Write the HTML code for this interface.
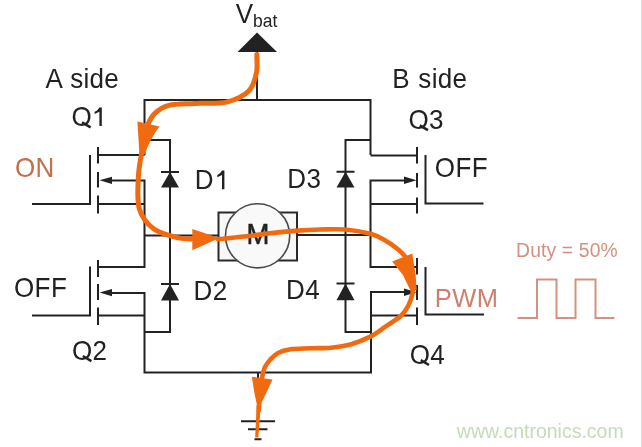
<!DOCTYPE html>
<html><head><meta charset="utf-8">
<style>
html,body{margin:0;padding:0;background:#fff;width:642px;height:447px;overflow:hidden}
svg{display:block;filter:blur(0.35px)}
text{font-family:"Liberation Sans",sans-serif;fill:#222}
</style></head><body>
<svg width="642" height="447" viewBox="0 0 642 447">
<rect x="0" y="0" width="642" height="447" fill="#fff"/>
<rect x="641" y="0" width="1" height="447" fill="#dcdcdc"/>
<g stroke="#222" stroke-width="2" fill="none" stroke-linecap="butt">
  <path d="M144.5 155 V100 H370.5 V155"/>
  <path d="M257 52 V100"/>
  <path d="M98 155 H144.5"/>
  <path d="M144.5 140 H170 V332 H144.5"/>
  <path d="M108 180.5 H144.5 V267 H98"/>
  <path d="M98 204 H144.5"/>
  <path d="M144.5 235.5 H218"/>
  <path d="M108 293 H144.5 V372.5 H371 V292 H408"/>
  <path d="M98 315.5 H144.5"/>
  <path d="M32 204 H90 V155"/>
  <path d="M32 315.5 H90 V266.5"/>
  <path d="M98 147 V163.5 M98 172 V187.5 M98 195.5 V213.5"/>
  <path d="M98 260 V277 M98 284 V300 M98 307.5 V325"/>
  <path d="M370.5 155.5 H417"/>
  <path d="M370.5 140 H345.5 V332 H370.5"/>
  <path d="M407 180.5 H370.5 V267 H417"/>
  <path d="M370.5 204 H417"/>
  <path d="M297.5 235 H370.5"/>
  <path d="M370.5 315.5 H417"/>
  <path d="M483.5 203.5 H425.5 V155"/>
  <path d="M484 314.5 H425.5 V267"/>
  <path d="M417 147 V163.5 M417 173 V187.5 M417 197.5 V213.5"/>
  <path d="M417 258 V274.5 M417 285 V300 M417 307.5 V325"/>
  <path d="M258 372.5 V421"/>
  <path d="M241 421.2 H275 M248 429.2 H267.5 M254.5 439.3 H261.5"/>
  <path d="M161 172 H179 M161 284 H179 M336.5 171.8 H354.5 M336.5 283.5 H354.5"/>
</g>
<g fill="#222">
  <path d="M99.5 180.3 L112 176.7 L112 183.9 Z"/>
  <path d="M99.5 292.6 L112 289 L112 296.2 Z"/>
  <path d="M416.5 180.3 L404 176.6 L404 184 Z"/>
  <path d="M416.5 292.3 L404 288.6 L404 296 Z"/>
  <path d="M170 172 L161 187.5 L179 187.5 Z"/>
  <path d="M170 284 L161 300.5 L179 300.5 Z"/>
  <path d="M345.5 171.8 L336.5 187.5 L354.5 187.5 Z"/>
  <path d="M345.5 283.5 L336.5 300.3 L354.5 300.3 Z"/>
  <path d="M257 32.5 L237.5 52 L277 52 Z"/>
</g>

<rect x="218.5" y="212.5" width="78.5" height="48" fill="#f8f8f8" stroke="#2a2a2a" stroke-width="2"/>
<circle cx="257.6" cy="235.8" r="32.1" fill="#f9f9f9" stroke="#4a4a4a" stroke-width="1.6"/>

<text stroke="#222" stroke-width="0.45" transform="translate(246.5 244.0) scale(1 1.04)" font-size="27.5" style="letter-spacing:0px">M</text>
<text transform="translate(235.7 22.5) scale(1 1.04)" font-size="26" style="letter-spacing:0px">V</text>
<text transform="translate(253 26.7) scale(1 1.04)" font-size="17.5" style="letter-spacing:0px">bat</text>
<text transform="translate(45.5 88.2) scale(1 1.04)" font-size="26" style="letter-spacing:0.3px;word-spacing:1px">A side</text>
<text transform="translate(71.5 126.0) scale(1 1.04)" font-size="26" style="letter-spacing:0.4px">O</text>
<path d="M99.4 107.4 H101.8 V126.0 H99.4 V111.7 L94.6 114.0 V111.8 C97.2 110.7 98.2 109.0 99.4 107.4 Z" fill="#222"/>
<path d="M82 122.3 L90.6 127.3" stroke="#222" stroke-width="2.6"/>
<text transform="translate(15 177) scale(1 1.04)" font-size="26" style="letter-spacing:0.4px;fill:#c0714a">ON</text>
<text transform="translate(194.7 189.2) scale(1 1.04)" font-size="26" style="letter-spacing:0.4px">D</text>
<path d="M222.0 170.6 H224.4 V189.2 H222.0 V174.9 L217.3 177.2 V175.0 C219.9 173.9 220.8 172.2 222.0 170.6 Z" fill="#222"/>
<text transform="translate(14 296.5) scale(1 1.04)" font-size="26" style="letter-spacing:0.4px">OFF</text>
<text transform="translate(193.6 299.9) scale(1 1.04)" font-size="26" style="letter-spacing:0.4px">D2</text>
<text transform="translate(72 360.2) scale(1 1.04)" font-size="26" style="letter-spacing:0.4px">O2</text>
<path d="M82.8 356 L91.4 361.1" stroke="#222" stroke-width="2.6"/>
<text transform="translate(392.2 88) scale(1 1.04)" font-size="26" style="letter-spacing:0.3px;word-spacing:1px">B side</text>
<text transform="translate(408.5 129.1) scale(1 1.04)" font-size="26" style="letter-spacing:0.4px">O3</text>
<path d="M419.8 125.5 L428 130.1" stroke="#222" stroke-width="2.6"/>
<text transform="translate(287.3 187.6) scale(1 1.04)" font-size="26" style="letter-spacing:0.4px">D3</text>
<text transform="translate(434.8 177.2) scale(1 1.04)" font-size="26" style="letter-spacing:0.4px">OFF</text>
<text transform="translate(286 298.6) scale(1 1.04)" font-size="26" style="letter-spacing:0.4px">D4</text>
<text transform="translate(409.7 364.2) scale(1 1.04)" font-size="26" style="letter-spacing:0.4px">O4</text>
<path d="M420.8 360.2 L429 365" stroke="#222" stroke-width="2.6"/>
<text transform="translate(434.8 307.1) scale(1 1.04)" font-size="25.5" style="letter-spacing:0.4px;fill:#cc8170">PWM</text>
<text transform="translate(516.1 257.1) scale(1 1.04)" font-size="19.3" style="letter-spacing:0.15px;fill:#d2917f">Duty = 50%</text>
<text transform="translate(456.8 437.6) scale(1 1.0)" font-size="19.5" style="letter-spacing:0px;fill:#c4dbb8">www.cntronics.com</text>
<path d="M517.5 318 H537 V279.5 H556.5 V318 H575.5 V279.5 H595.5 V318 H614.5" fill="none" stroke="#d3917f" stroke-width="2"/>
<g fill="none" stroke="#f26a10" stroke-linecap="round" stroke-linejoin="round">
  <path d="M256.8 54.5 C256.8 57.0 257.5 64.7 256.8 71.0 C255.5 77.3 254.1 85.6 249.0 90.8 C243.9 96.0 235.5 100.0 226.5 102.1 C217.5 104.2 204.6 102.9 195.0 103.4 C185.4 104.0 175.5 103.7 168.8 105.4 C162.1 107.1 158.2 110.2 154.6 113.6 C151.0 117.0 148.3 123.9 147.0 126.0" stroke-width="5.0"/>
  <path d="M143.0 146.0 C142.2 150.8 139.1 164.6 138.5 175.0 C137.9 185.4 136.8 199.7 139.3 208.6 C141.8 217.5 147.0 223.8 153.6 228.7 C160.2 233.6 171.6 236.2 178.7 237.9 C185.8 239.6 193.1 238.7 196.0 238.8" stroke-width="5.0"/>
  <path d="M218.0 239.2 C223.2 238.7 240.7 237.0 249.3 236.0 C257.9 235.0 261.8 234.2 269.8 233.3 C277.8 232.4 288.8 231.2 297.2 230.6 C305.6 230.0 312.0 229.7 320.0 229.5 C328.0 229.3 336.8 228.8 345.2 229.5 C353.6 230.2 363.9 232.1 370.5 233.8 C377.1 235.6 379.8 237.3 384.5 240.0 C389.2 242.7 394.8 246.7 398.5 249.8 C402.2 252.9 405.6 257.1 407.0 258.5" stroke-width="4.6"/>
  <path d="M413.5 286.0 C413.4 287.7 413.2 290.3 412.4 294.0 C411.6 297.7 409.9 302.7 408.0 306.3 C406.1 309.9 404.8 312.3 401.0 315.7 C397.2 319.1 390.3 323.3 385.4 326.7 C380.4 330.1 377.0 333.2 371.3 336.1 C365.6 339.0 357.9 342.3 351.2 344.2 C344.5 346.1 337.8 347.0 331.0 347.7 C324.2 348.4 317.4 348.0 310.7 348.3 C303.9 348.6 295.9 348.5 290.5 349.3 C285.1 350.1 281.4 351.2 278.0 353.0 C274.6 354.8 272.2 357.7 270.0 360.0 C267.8 362.3 266.3 364.5 265.0 367.0 C263.7 369.5 262.6 374.7 262.1 378.0" stroke-width="4.6"/>
</g>
<g fill="#f26a10">
  <path d="M137.4 121.5 L159.5 126.6 Q150 139 145 154 L139.4 154 Z"/>
  <path d="M192.3 229 L192.3 250.3 L219.5 238 Z"/>
  <path d="M392.1 261.5 L412.3 253.4 L415.6 275 L416.8 290 L410.2 290 L403 275 Z"/>
  <path d="M251.8 376.8 L272.5 379.6 L266.3 393 L261.8 402 L260.8 412 L256.6 412 L256.8 404.2 L254.6 394.1 Z"/>
  <path d="M256.6 405 L260.8 405 L258.4 437.5 L255.2 437.5 Z"/>
</g>
</svg>
</body></html>
